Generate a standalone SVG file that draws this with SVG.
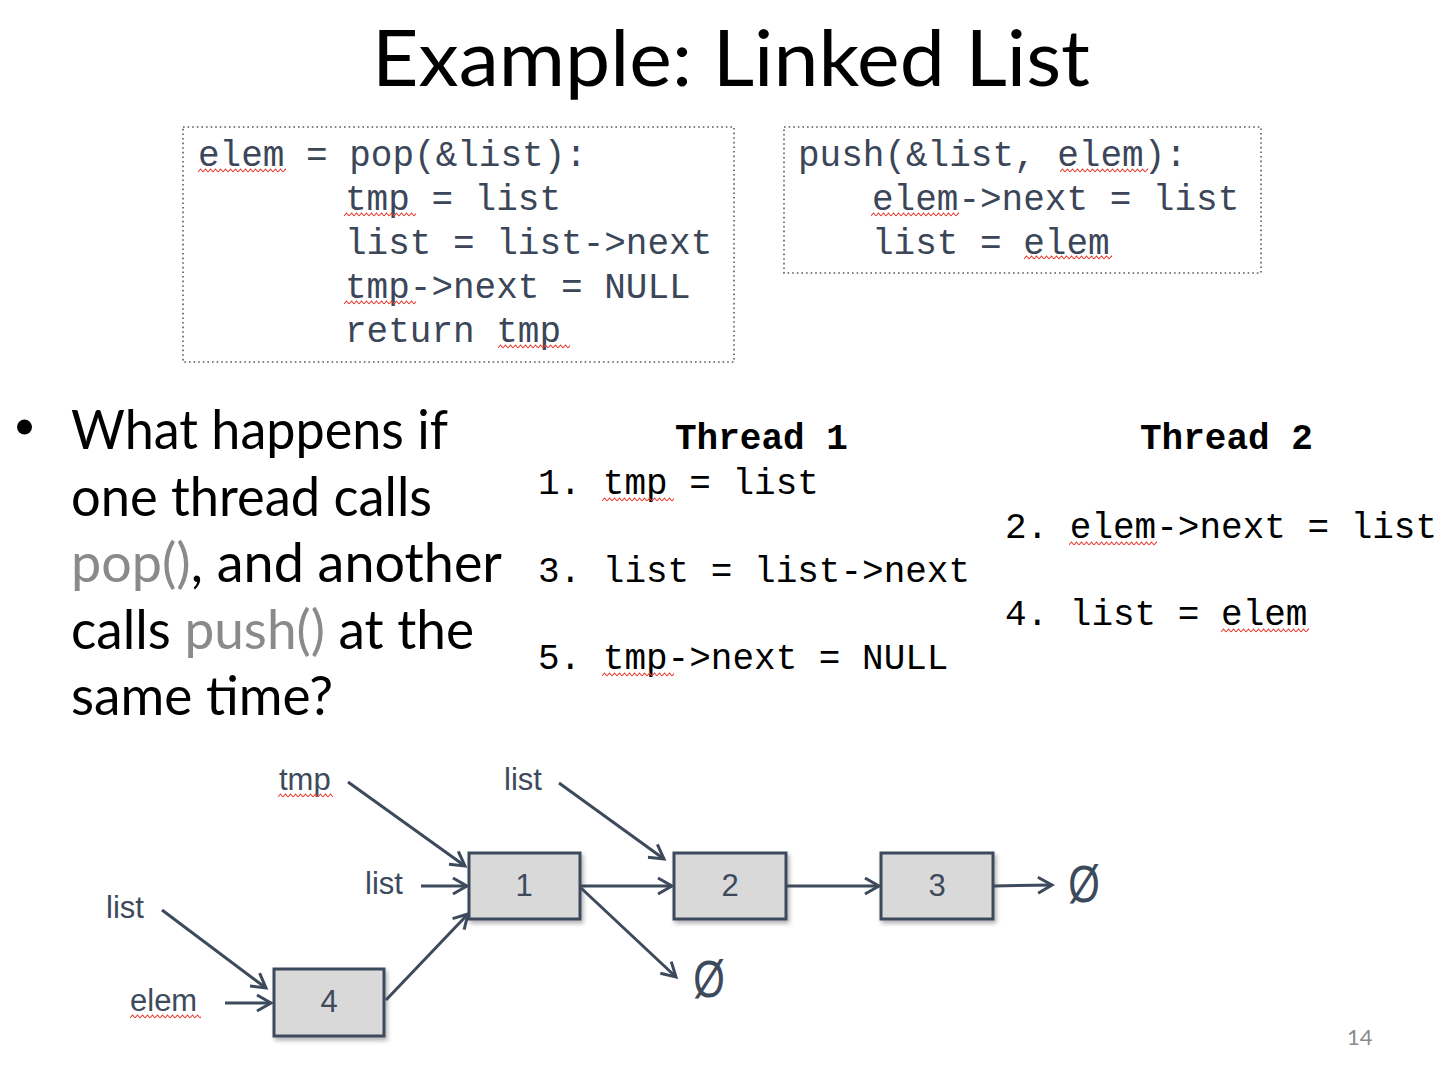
<svg xmlns="http://www.w3.org/2000/svg" width="1454" height="1084" viewBox="0 0 1454 1084">
<style>
.title{font-family:Lato,"Liberation Sans",sans-serif;font-size:78px;fill:#000}
.bul{font-family:Lato,"Liberation Sans",sans-serif;font-size:54px;fill:#000}
.grey{fill:#8a8a8a}
.code{font-family:"Liberation Mono","Courier New",monospace;font-size:36px;fill:#3b4658}
.tcode{font-family:"Liberation Mono","Courier New",monospace;font-size:36px;fill:#000}
.thead{font-family:"Liberation Mono","Courier New",monospace;font-size:36px;font-weight:bold;fill:#000}
.dot{fill:none;stroke:#5a5a5a;stroke-width:1.6;stroke-dasharray:1.6 3}
.lbl{font-family:"Liberation Sans",Arial,sans-serif;font-size:31px;fill:#3d4a5c}
.num{font-family:"Liberation Sans",Arial,sans-serif;font-size:31px;fill:#3d4a5c;text-anchor:middle}
.nul{font-family:"Liberation Sans",Arial,sans-serif;font-size:52px;fill:#3d4a5c;text-anchor:middle}
.box{fill:#d9d9d9;stroke:#3d4a5c;stroke-width:3;filter:url(#sh)}
.edge{fill:none;stroke:#3d4a5c;stroke-width:3;marker-end:url(#ah)}
.sq{fill:url(#sq)}
.pg{font-family:Lato,"Liberation Sans",sans-serif;font-size:22px;fill:#8a8a8a}
</style>
<defs>
<marker id="ah" markerUnits="userSpaceOnUse" viewBox="-18 -11 21 22" markerWidth="21" markerHeight="22" refX="0" refY="0" orient="auto">
<path d="M-14,-8 L0,0 L-14,8" fill="none" stroke="#3d4a5c" stroke-width="3"/>
</marker>
<pattern id="sq" patternUnits="userSpaceOnUse" width="5" height="5">
<path d="M0,4 L2.5,1 L5,4" fill="none" stroke="#e8392d" stroke-width="1.1"/>
</pattern>
<filter id="sh" x="-10%" y="-10%" width="130%" height="140%">
<feDropShadow dx="2" dy="3" stdDeviation="2" flood-color="#000" flood-opacity="0.3"/>
</filter>
</defs>

<text class="title" x="372" y="86" textLength="718" lengthAdjust="spacingAndGlyphs">Example: Linked List</text>

<g id="pop-code">
<rect class="dot" x="183" y="127" width="551" height="235"/>
<text class="code" x="198" y="166">elem = pop(&amp;list):</text>
<text class="code" x="345" y="210">tmp = list</text>
<text class="code" x="345" y="254">list = list-&gt;next</text>
<text class="code" x="345" y="298">tmp-&gt;next = NULL</text>
<text class="code" x="345" y="342">return tmp</text>
<rect class="sq" width="88" height="5" transform="translate(198,168)"/>
<rect class="sq" width="72" height="5" transform="translate(344,212)"/>
<rect class="sq" width="72" height="5" transform="translate(344,300)"/>
<rect class="sq" width="72" height="5" transform="translate(498,344)"/>
</g>

<g id="push-code">
<rect class="dot" x="784" y="127" width="477" height="146"/>
<text class="code" x="798" y="166">push(&amp;list, elem):</text>
<text class="code" x="872" y="210">elem-&gt;next = list</text>
<text class="code" x="872" y="254">list = elem</text>
<rect class="sq" width="88" height="5" transform="translate(1060,168)"/>
<rect class="sq" width="88" height="5" transform="translate(871,212)"/>
<rect class="sq" width="88" height="5" transform="translate(1024,255)"/>
</g>

<g id="question">
<circle cx="24.5" cy="427" r="7.5" fill="#000"/>
<text class="bul" x="71" y="449" textLength="377" lengthAdjust="spacingAndGlyphs">What happens if</text>
<text class="bul" x="71" y="516" textLength="361" lengthAdjust="spacingAndGlyphs">one thread calls</text>
<text class="bul" x="71" y="582" textLength="431" lengthAdjust="spacingAndGlyphs"><tspan class="grey">pop()</tspan>, and another</text>
<text class="bul" x="71" y="649" textLength="403" lengthAdjust="spacingAndGlyphs">calls <tspan class="grey">push()</tspan> at the</text>
<text class="bul" x="71" y="715" textLength="262" lengthAdjust="spacingAndGlyphs">same time?</text>
</g>

<g id="thread1">
<text class="thead" x="675" y="449">Thread 1</text>
<text class="tcode" x="538" y="494">1. tmp = list</text>
<text class="tcode" x="538" y="582">3. list = list-&gt;next</text>
<text class="tcode" x="538" y="669">5. tmp-&gt;next = NULL</text>
<rect class="sq" width="72" height="5" transform="translate(602,497)"/>
<rect class="sq" width="72" height="5" transform="translate(602,672)"/>
</g>

<g id="thread2">
<text class="thead" x="1140" y="449">Thread 2</text>
<text class="tcode" x="1005" y="538">2. elem-&gt;next = list</text>
<text class="tcode" x="1005" y="625">4. list = elem</text>
<rect class="sq" width="88" height="5" transform="translate(1069,541)"/>
<rect class="sq" width="88" height="5" transform="translate(1221,628)"/>
</g>

<g id="labels">
<text class="lbl" x="279" y="790">tmp</text>
<rect class="sq" width="55" height="5" transform="translate(278,793)"/>
<text class="lbl" x="504" y="790">list</text>
<text class="lbl" x="365" y="894">list</text>
<text class="lbl" x="106" y="918">list</text>
<text class="lbl" x="130" y="1011">elem</text>
<rect class="sq" width="71" height="5" transform="translate(130,1014)"/>
</g>

<g id="node1"><rect class="box" x="469" y="853" width="111" height="66"/><text class="num" x="524" y="896">1</text></g>
<g id="node2"><rect class="box" x="674" y="853" width="112" height="66"/><text class="num" x="730" y="896">2</text></g>
<g id="node3"><rect class="box" x="881" y="853" width="112" height="66"/><text class="num" x="937" y="896">3</text></g>
<g id="node4"><rect class="box" x="274" y="969" width="110" height="67"/><text class="num" x="329" y="1012">4</text></g>
<g id="null1"><text class="nul" transform="translate(1084,902) scale(0.78,1)">Ø</text></g>
<g id="null2"><text class="nul" transform="translate(709,997) scale(0.78,1)">Ø</text></g>

<g id="connectors">
<line class="edge" x1="348" y1="782" x2="465" y2="866"/>
<line class="edge" x1="559" y1="783" x2="664" y2="859"/>
<line class="edge" x1="421" y1="886" x2="467" y2="886"/>
<line class="edge" x1="162" y1="910" x2="266" y2="988"/>
<line class="edge" x1="225" y1="1003" x2="271" y2="1003"/>
<line class="edge" x1="386" y1="1000" x2="468" y2="914"/>
<line class="edge" x1="581" y1="886" x2="672" y2="886"/>
<line class="edge" x1="581" y1="888" x2="676" y2="977"/>
<line class="edge" x1="787" y1="886" x2="879" y2="886"/>
<line class="edge" x1="994" y1="886" x2="1052" y2="885"/>
</g>

<text class="pg" x="1347" y="1045">14</text>
</svg>
